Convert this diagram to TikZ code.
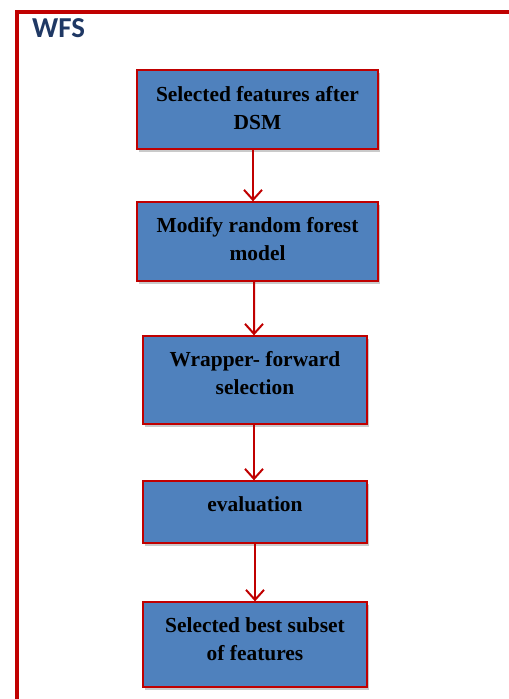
\documentclass[tikz,border=0pt]{standalone}
\usepackage{fontspec}
\setmainfont{Liberation Serif}
\newfontfamily\headfont{Carlito}
\usetikzlibrary{arrows.meta,shadows}
\definecolor{framered}{HTML}{C00000}
\definecolor{boxblue}{HTML}{4F81BD}
\definecolor{headnavy}{HTML}{1F3864}
\tikzset{
  stepbox/.style={draw=framered, line width=1.3bp, fill=boxblue,
    inner sep=0pt, drop shadow={shadow xshift=2bp, shadow yshift=-3bp, opacity=0.35, fill=black!60}},
  boxtext/.style={align=center, font=\fontsize{21.5}{28}\selectfont\bfseries, text=black, inner sep=0pt},
  flow/.style={draw=framered, line width=2bp, -{Straight Barb[length=10bp,width=18bp,line width=2bp]}}
}
\begin{document}
\begin{tikzpicture}[x=1bp,y=-1bp]
\useasboundingbox (0,0) rectangle (509,699);
\clip (0,0) rectangle (509,699);
% outer frame, running off the right and bottom edges
\coordinate (fbl) at (17,720);
\coordinate (ftl) at (17,12);
\coordinate (ftr) at (540,12);
\draw[framered, line width=3.6bp] (fbl) -- (ftl) -- (ftr);
\node[anchor=base west, inner sep=0pt, text=headnavy,
  font=\headfont\fontsize{29}{32}\selectfont\bfseries] (head) at (32,38) {WFS};

% process boxes
\node[stepbox, minimum width=241bp, minimum height=79bp] (b1) at (257.5,109.5) {};
\node[stepbox, minimum width=241bp, minimum height=79bp] (b2) at (257.5,241.5) {};
\node[stepbox, minimum width=224bp, minimum height=88bp] (b3) at (255,380) {};
\node[stepbox, minimum width=224bp, minimum height=62bp] (b4) at (255,512) {};
\node[stepbox, minimum width=224bp, minimum height=85bp] (b5) at (255,644.5) {};

\node[boxtext] (t1) at ([yshift=1bp]b1.center) {Selected features after\\DSM};
\node[boxtext] (t2) at ([yshift=2bp]b2.center) {Modify random forest\\model};
\node[boxtext] (t3) at ([yshift=7bp]b3.center) {Wrapper- forward\\selection};
\node[boxtext] (t4) at ([yshift=8bp]b4.center) {evaluation};
\node[boxtext] (t5) at ([yshift=5bp]b5.center) {Selected best subset\\of features};

% connectors
\draw[flow] ([xshift=-4.5bp]b1.south) -- ([xshift=-4.5bp]b2.north);
\draw[flow] ([xshift=-3.5bp]b2.south) -- ([xshift=-1bp]b3.north);
\draw[flow] ([xshift=-1bp]b3.south) -- ([xshift=-1bp]b4.north);
\draw[flow] ([xshift=0bp]b4.south) -- ([xshift=0bp]b5.north);
\end{tikzpicture}
\end{document}
